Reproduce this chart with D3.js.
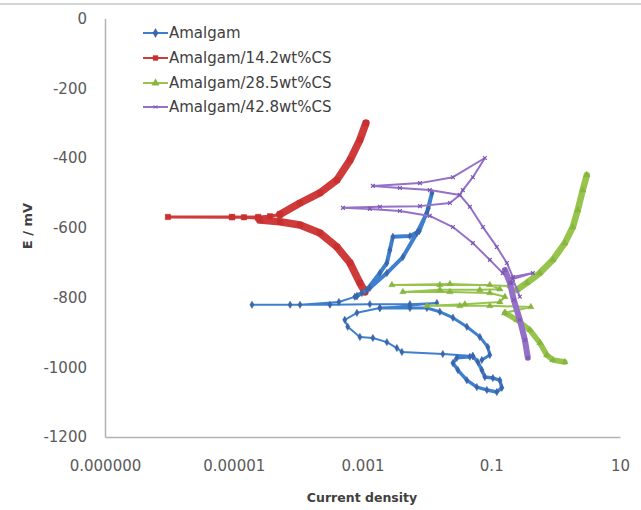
<!DOCTYPE html>
<html><head><meta charset="utf-8">
<script src="https://cdn.jsdelivr.net/npm/d3@7"></script>
<style>body{margin:0;background:#fff}svg{display:block}</style>
</head><body><svg id="c" width="641" height="510"></svg>
<script>
// ---------- tick labels ----------
const xTickValues = [1e-7, 1e-5, 1e-3, 1e-1, 10];
const xTickLabels = ["0.000000", "0.00001", "0.001", "0.1", "10"];
const yTickValues = [0, -200, -400, -600, -800, -1000, -1200];
const yTickLabels = ["0", "-200", "-400", "-600", "-800", "-1000", "-1200"];
const seriesNames = ["Amalgam", "Amalgam/14.2wt%CS", "Amalgam/28.5wt%CS", "Amalgam/42.8wt%CS"];

// ---------- data: [current density, E (mV)] ----------
const amalgamAnodic = [[7.6e-4,-798],[9.8e-4,-787],[1.30e-3,-773],[2.39e-3,-730],[4.24e-3,-684],[7.0e-3,-615],[1.0e-2,-558],[1.2e-2,-500],[1.05e-2,-545],[7.6e-3,-610],[5.45e-3,-624],[2.96e-3,-626],[2.66e-3,-664],[2.39e-3,-701],[1.86e-3,-730],[1.17e-3,-778],[8.2e-4,-796]];
const amalgamScan = [[8.2e-4,-796],[4.3e-4,-813],[1.07e-4,-821],[1.92e-5,-821],[7.5e-5,-821],[3.12e-4,-821],[1.30e-3,-819],[5.45e-3,-819],[1.43e-2,-816],[5.45e-3,-824],[1.86e-3,-830],[8.2e-4,-844],[5.3e-4,-864],[5.9e-4,-884],[9.1e-4,-913],[1.45e-3,-916],[2.39e-3,-928],[3.42e-3,-945],[4.09e-3,-956],[1.77e-2,-962],[5.18e-2,-968]];
const amalgamLoop = [[5.18e-2,-968],[6.19e-2,-985],[7.14e-2,-1008],[7.96e-2,-1028],[0.106,-1031],[0.136,-1037],[0.146,-1059],[0.122,-1071],[8.55e-2,-1065],[5.97e-2,-1057],[4.18e-2,-1037],[3.03e-2,-1008],[2.54e-2,-988],[2.92e-2,-973],[4.66e-2,-970]];
const amalgamReturn = [[1.86e-3,-830],[5.45e-3,-830],[1.0e-2,-830],[1.59e-2,-841],[2.54e-2,-858],[4.18e-2,-884],[6.65e-2,-913],[8.85e-2,-942],[9.5e-2,-965],[7.14e-2,-979]];

const cs14Cathodic = [[1.09e-3,-784],[9.1e-4,-758],[6.4e-4,-701],[4.0e-4,-655],[2.18e-4,-615],[1.07e-4,-592],[5.2e-5,-583],[2.55e-5,-578]];
const cs14Spike = [[2.55e-5,-578],[2.38e-5,-572],[1.44e-5,-570],[9.4e-6,-569],[9.5e-7,-569],[9.4e-6,-570],[2.4e-5,-569],[3.65e-5,-567],[5.2e-5,-562]];
const cs14Anodic = [[5.2e-5,-562],[1.07e-4,-529],[2.18e-4,-500],[4.0e-4,-463],[6.4e-4,-406],[9.1e-4,-348],[1.13e-3,-300]];

const cs28Cathodic = [[1.39,-985],[0.906,-979],[0.73,-965],[0.569,-930],[0.397,-893],[0.25,-864],[0.163,-844]];
const cs28Scan = [[0.163,-844],[0.412,-827],[9.5e-2,-824],[3.25e-2,-824],[1.0e-2,-824],[3.89e-2,-819],[0.136,-813],[0.163,-798],[9.5e-2,-787],[2.28e-2,-784],[4.24e-3,-784],[1.59e-2,-778],[6.65e-2,-778],[0.136,-776],[9.5e-2,-764],[1.59e-2,-764],[2.86e-3,-764],[2.28e-2,-761],[0.195,-767],[0.25,-778]];
const cs28Anodic = [[0.25,-778],[0.357,-758],[0.569,-730],[0.906,-692],[1.39,-644],[1.85,-598],[2.21,-549],[2.64,-492],[3.05,-449]];

const cs42Scan = [[0.209,-758],[0.151,-730],[9.5e-2,-692],[5.18e-2,-644],[2.54e-2,-598],[1.11e-2,-566],[3.81e-3,-552],[1.30e-3,-546],[4.97e-4,-543],[1.86e-3,-540],[7.8e-3,-538],[2.28e-2,-529],[3.25e-2,-506],[1.11e-2,-492],[3.81e-3,-486],[1.45e-3,-480],[7.8e-3,-472],[2.54e-2,-455],[7.96e-2,-400],[5.18e-2,-455],[3.62e-2,-492],[3.25e-2,-506],[4.66e-2,-540],[7.42e-2,-598],[0.122,-655],[0.175,-701],[0.216,-741],[0.443,-730],[0.216,-747],[0.278,-798]];
const cs42Thick = [[0.163,-721],[0.195,-758],[0.224,-807],[0.278,-864],[0.333,-922],[0.37,-973]];

// ---------- styling ----------
const series = [
  {name: seriesNames[1], color: "#cf3a3a", mark: "#c83030", sym: "square", size: 30, parts: [[cs14Cathodic, 7.5], [cs14Spike, 3], [cs14Anodic, 7.5]]},
  {name: seriesNames[0], color: "#3f80ce", mark: "#3a66aa", sym: "diamond", size: 16, parts: [[amalgamScan, 2], [amalgamReturn, 3], [amalgamLoop, 3.5], [amalgamAnodic, 4]]},
  {name: seriesNames[2], color: "#96c44c", mark: "#88b440", sym: "triangle", size: 18, parts: [[cs28Scan, 2], [cs28Cathodic, 5.5], [cs28Anodic, 6.5]]},
  {name: seriesNames[3], color: "#9470c8", mark: "#7c58b0", sym: "x", size: 14, parts: [[cs42Scan, 2], [cs42Thick, 6]]}
];

const svg = d3.select("#c");
const W = 641, H = 510;
const x = d3.scaleLog().domain([1e-7, 10]).range([105, 620]);
const y = d3.scaleLinear().domain([-1200, 0]).range([437, 18.5]);

// chart frame top edge
svg.append("line").attr("x1", 0).attr("x2", W).attr("y1", 4).attr("y2", 4)
  .attr("stroke", "#d4d4d4").attr("stroke-width", 2);

const font = "'DejaVu Sans', sans-serif";

// axes
const yAxis = svg.append("g").attr("transform", "translate(105,0)")
  .call(d3.axisLeft(y).tickValues(yTickValues).tickSize(0).tickPadding(18)
    .tickFormat((d, i) => yTickLabels[i]));
const xAxis = svg.append("g").attr("transform", "translate(0,437)")
  .call(d3.axisBottom(x).tickValues(xTickValues).tickSize(0).tickPadding(23)
    .tickFormat((d, i) => xTickLabels[i]));
[yAxis, xAxis].forEach(a => {
  a.select(".domain").attr("stroke", "#b3b3b3").attr("stroke-width", 1.5);
  a.selectAll("text").attr("font-family", font).attr("font-size", 15).attr("fill", "#5a5a5a");
});

// axis titles
svg.append("text").attr("x", 362).attr("y", 502).attr("text-anchor", "middle")
  .attr("font-family", font).attr("font-weight", "bold").attr("font-size", 12.5).attr("fill", "#404040")
  .text("Current density");
svg.append("text").attr("transform", "translate(32,226) rotate(-90)").attr("text-anchor", "middle")
  .attr("font-family", font).attr("font-weight", "bold").attr("font-size", 13).attr("fill", "#404040")
  .text("E / mV");

// symbol generator
function symPath(type, size) {
  if (type === "x") { const r = Math.sqrt(size) / 2; return `M${-r},${-r}L${r},${r}M${-r},${r}L${r},${-r}`; }
  const t = {diamond: d3.symbolDiamond, square: d3.symbolSquare, triangle: d3.symbolTriangle}[type];
  return d3.symbol().type(t).size(size)();
}

const line = d3.line().x(d => x(d[0])).y(d => y(d[1]));
const plot = svg.append("g");
series.forEach(s => {
  const g = plot.append("g");
  s.parts.forEach(([data, w]) => {
    g.append("path").attr("d", line(data)).attr("fill", "none").attr("stroke", s.color)
      .attr("stroke-width", w).attr("stroke-linejoin", "round").attr("stroke-linecap", "round");
  });
  s.parts.forEach(([data]) => {
    g.selectAll(null).data(data).enter().append("path")
      .attr("transform", d => `translate(${x(d[0])},${y(d[1])})`)
      .attr("d", symPath(s.sym, s.size))
      .attr("fill", s.sym === "x" ? "none" : s.mark)
      .attr("stroke", s.mark).attr("stroke-width", s.sym === "x" ? 1.2 : 0.4);
  });
});

// legend
const legend = svg.append("g");
const legendY = [33, 58, 83, 107];
seriesNames.forEach((nm, i) => {
  const s = series.find(t => t.name === nm);
  const gy = legendY[i];
  legend.append("line").attr("x1", 143).attr("x2", 168).attr("y1", gy).attr("y2", gy)
    .attr("stroke", s.color).attr("stroke-width", 2);
  legend.append("path").attr("transform", `translate(155.5,${gy})`)
    .attr("d", symPath(s.sym, s.sym === "x" ? 12 : 24))
    .attr("fill", s.sym === "x" ? "none" : s.mark).attr("stroke", s.mark).attr("stroke-width", s.sym === "x" ? 1 : 0.4);
  legend.append("text").attr("x", 169).attr("y", gy).attr("dy", "0.35em")
    .attr("font-family", font).attr("font-size", 15).attr("fill", "#404040").text(nm);
});
</script>
</body></html>
